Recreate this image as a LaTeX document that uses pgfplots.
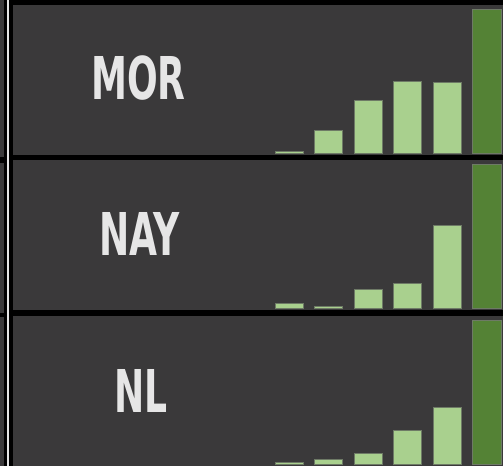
\documentclass[border=0pt]{standalone}
\usepackage{pgfplots}
\pgfplotsset{compat=1.18}
\usepackage{graphicx}
\usepackage{fontspec}
\newfontfamily\condfont{DejaVu Sans Condensed}
\definecolor{panelgray}{HTML}{3A393A}
\definecolor{lightgreen}{HTML}{A9D08E}
\definecolor{darkgreen}{HTML}{548235}
\definecolor{baredge}{HTML}{6E7A66}
\definecolor{labelgray}{HTML}{E6E6E6}

\pgfplotsset{
  panel/.style={
    scale only axis, width=490pt, height=150pt,
    anchor=south west,
    xmin=-7.006, xmax=5.418,
    ymin=-1.04, ymax=102.8,
    hide axis,
    axis background/.style={fill=panelgray},
    clip=false,
  },
  lightbar/.style={ybar, bar shift=0pt, bar width=28pt, fill=lightgreen, draw=baredge, line width=0.8pt},
  darkbar/.style={ybar, bar shift=0pt, bar width=29pt, fill=darkgreen, draw=baredge, line width=0.8pt},
}

\newcommand{\teamlabel}[1]{\condfont\bfseries\fontsize{59}{59}\selectfont #1}

\begin{document}
\begin{tikzpicture}[x=1pt,y=1pt]
\fill[black] (0,0) rectangle (503,466);
\path[use as bounding box] (0,0) rectangle (503,466);

% left strip
\fill[panelgray] (0,309) rectangle (4,466);
\fill[panelgray] (0,153) rectangle (4,303);
\fill[panelgray] (0,0) rectangle (4,149);
\fill[labelgray] (7,0) rectangle (9,466);

% MOR
\begin{axis}[panel, at={(13pt,311pt)}]
\addplot[lightbar] coordinates {(0,1.4) (1,16.1) (2,36.5) (3,50.0) (4,49.3)};
\addplot[darkbar] coordinates {(5,100)};
\end{axis}

% NAY
\begin{axis}[panel, at={(13pt,156pt)}]
\addplot[lightbar] coordinates {(0,3.3) (1,1.4) (2,12.9) (3,17.1) (4,57.4)};
\addplot[darkbar] coordinates {(5,100)};
\end{axis}

% NL
\begin{axis}[panel, at={(13pt,0pt)}]
\addplot[lightbar] coordinates {(0,1.2) (1,3.3) (2,7.6) (3,23.5) (4,39.4)};
\addplot[darkbar] coordinates {(5,100)};
\end{axis}

\node[text=labelgray, inner sep=0pt] at (138.5,388) {\scalebox{0.68}[1]{\teamlabel{MOR}}};
\node[text=labelgray, inner sep=0pt] at (139.7,232.3) {\scalebox{0.68}[1]{\teamlabel{NAY}}};
\node[text=labelgray, inner sep=0pt] at (141.3,75) {\scalebox{0.68}[1]{\teamlabel{NL}}};
\end{tikzpicture}
\end{document}
